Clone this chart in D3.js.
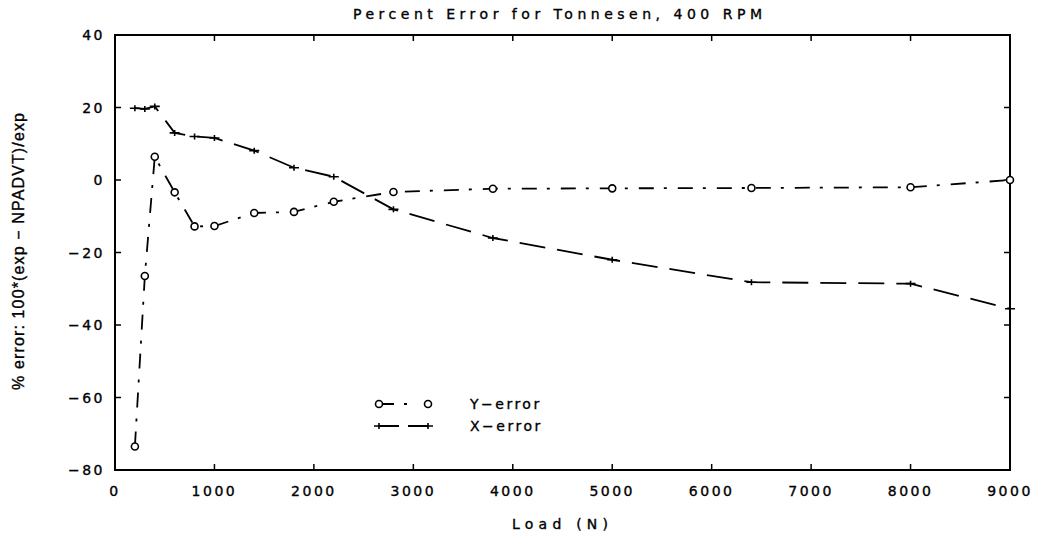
<!DOCTYPE html>
<html>
<head>
<meta charset="utf-8">
<script src="https://cdn.jsdelivr.net/npm/d3@7"></script>
<style>
  body { margin: 0; background: #fff; }
  text { font-family: "DejaVu Sans", sans-serif; fill: #000; stroke: #000; stroke-width: 0.35; }
</style>
</head>
<body>
<div id="chart"></div>
<script>
// Data
const loads = [200, 300, 400, 600, 800, 1000, 1400, 1800, 2200, 2800, 3800, 5000, 6400, 8000, 9000];
const yError = [-73.5, -26.5, 6.4, -3.4, -12.8, -12.7, -9.1, -8.8, -6.0, -3.3, -2.4, -2.3, -2.2, -2.0, 0.0];
const xError = [19.8, 19.6, 20.3, 13.0, 12.0, 11.6, 8.1, 3.4, 0.9, -8.1, -16.0, -22.0, -28.2, -28.6, -35.5];
const xTicks = [0, 1000, 2000, 3000, 4000, 5000, 6000, 7000, 8000, 9000];
const yTicks = [40, 20, 0, -20, -40, -60, -80];

const width = 1044;
const height = 538;
const margin = {top: 35, right: 34, bottom: 68, left: 115};

const svg = d3.select("#chart").append("svg")
    .attr("width", width)
    .attr("height", height);

const x = d3.scaleLinear().domain([0, 9000]).range([margin.left, width - margin.right]);
const y = d3.scaleLinear().domain([-80, 40]).range([height - margin.bottom, margin.top]);

// Frame
svg.append("rect")
    .attr("x", x(0)).attr("y", y(40))
    .attr("width", x(9000) - x(0)).attr("height", y(-80) - y(40))
    .attr("fill", "none").attr("stroke", "#000").attr("stroke-width", 2);

// Ticks pointing inward on all four sides
const tickLen = 6;
const ticks = svg.append("g").attr("stroke", "#000").attr("stroke-width", 1.5);
xTicks.slice(1, -1).forEach(t => {
    ticks.append("line").attr("x1", x(t)).attr("x2", x(t)).attr("y1", y(-80)).attr("y2", y(-80) - tickLen);
    ticks.append("line").attr("x1", x(t)).attr("x2", x(t)).attr("y1", y(40)).attr("y2", y(40) + tickLen);
});
yTicks.slice(1, -1).forEach(t => {
    ticks.append("line").attr("x1", x(0)).attr("x2", x(0) + tickLen).attr("y1", y(t)).attr("y2", y(t));
    ticks.append("line").attr("x1", x(9000)).attr("x2", x(9000) - tickLen).attr("y1", y(t)).attr("y2", y(t));
});

// Tick labels
svg.append("g").selectAll("text")
    .data(xTicks)
    .join("text")
    .attr("x", d => x(d))
    .attr("y", y(-80) + 26)
    .attr("text-anchor", "middle")
    .attr("font-size", 14)
    .attr("letter-spacing", 2.5)
    .text(d => d);

svg.append("g").selectAll("text")
    .data(yTicks)
    .join("text")
    .attr("x", x(0) - 10)
    .attr("y", d => y(d) + 5)
    .attr("text-anchor", "end")
    .attr("font-size", 14)
    .attr("letter-spacing", 2.5)
    .text(d => d < 0 ? "\u2212" + Math.abs(d) : d);

// Title and axis labels
svg.append("text")
    .attr("x", 353)
    .attr("y", 19)
    .attr("font-size", 14)
    .attr("textLength", 409)
    .attr("lengthAdjust", "spacing")
    .text("Percent Error for Tonnesen, 400 RPM");

svg.append("text")
    .attr("x", 512)
    .attr("y", 529)
    .attr("font-size", 14)
    .attr("textLength", 96)
    .attr("lengthAdjust", "spacing")
    .text("Load (N)");

svg.append("text")
    .attr("transform", "translate(24, 390) rotate(-90)")
    .style("font-family", "'Liberation Sans', Arial, sans-serif")
    .attr("font-size", 16)
    .attr("textLength", 277)
    .attr("lengthAdjust", "spacing")
    .text("% error: 100*(exp \u2212 NPADVT)/exp");

// Series
const yPts = loads.map((d, i) => [d, yError[i]]);
const xPts = loads.map((d, i) => [d, xError[i]]);
const line = d3.line().x(d => x(d[0])).y(d => y(d[1]));

svg.append("path")
    .datum(yPts)
    .attr("d", line)
    .attr("fill", "none")
    .attr("stroke", "#000")
    .attr("stroke-width", 1.8)
    .attr("stroke-dasharray", "15,10,3,11");

svg.append("path")
    .datum(xPts)
    .attr("d", line)
    .attr("fill", "none")
    .attr("stroke", "#000")
    .attr("stroke-width", 1.8)
    .attr("stroke-dasharray", "26,12");

svg.append("g").selectAll("circle")
    .data(yPts)
    .join("circle")
    .attr("cx", d => x(d[0]))
    .attr("cy", d => y(d[1]))
    .attr("r", 3.5)
    .attr("fill", "#fff")
    .attr("stroke", "#000")
    .attr("stroke-width", 1.6);

svg.append("g").selectAll("path")
    .data(xPts)
    .join("path")
    .attr("transform", d => `translate(${x(d[0])},${y(d[1])})`)
    .attr("d", "M-5,0H5M0,-3V3")
    .attr("stroke", "#000")
    .attr("stroke-width", 1.6);

// Legend
const leg = svg.append("g");
const lx1 = 379, lx2 = 428;
leg.append("line").attr("x1", lx1).attr("x2", lx2).attr("y1", 404).attr("y2", 404)
    .attr("stroke", "#000").attr("stroke-width", 1.8).attr("stroke-dasharray", "15,10,3,30");
[lx1, lx2].forEach(cx => leg.append("circle").attr("cx", cx).attr("cy", 404).attr("r", 3.5)
    .attr("fill", "#fff").attr("stroke", "#000").attr("stroke-width", 1.6));
leg.append("line").attr("x1", lx1).attr("x2", lx2).attr("y1", 426).attr("y2", 426)
    .attr("stroke", "#000").attr("stroke-width", 1.8).attr("stroke-dasharray", "20,9");
[lx1, lx2].forEach(cx => leg.append("path").attr("transform", `translate(${cx},426)`)
    .attr("d", "M-5,0H5M0,-3V3").attr("stroke", "#000").attr("stroke-width", 1.6));
leg.append("text").attr("x", 470).attr("y", 409).attr("font-size", 14).attr("letter-spacing", 2.5).text("Y\u2212error");
leg.append("text").attr("x", 470).attr("y", 431).attr("font-size", 14).attr("letter-spacing", 2.5).text("X\u2212error");
</script>
</body>
</html>
